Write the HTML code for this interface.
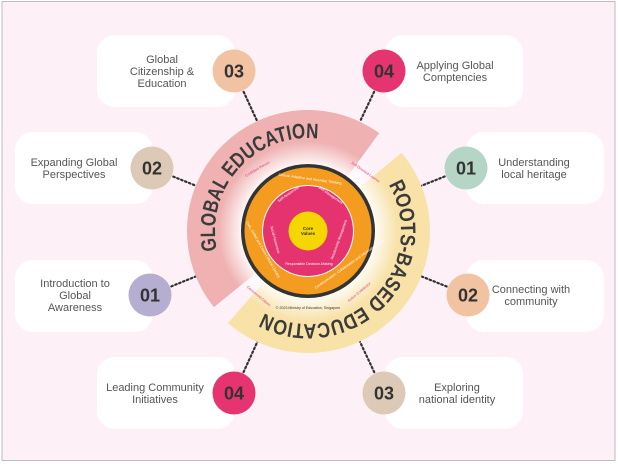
<!DOCTYPE html>
<html><head><meta charset="utf-8"><style>
html,body{margin:0;padding:0;background:#fff;}
svg{display:block;font-family:"Liberation Sans",sans-serif;}
</style></head><body>
<svg id="s" width="618" height="464" viewBox="0 0 618 464" xmlns="http://www.w3.org/2000/svg">
<defs>
<radialGradient id="glow" cx="308" cy="231" r="90" gradientUnits="userSpaceOnUse">
<stop offset="0.72" stop-color="#ffffff" stop-opacity="0.95"/>
<stop offset="1" stop-color="#ffffff" stop-opacity="0"/>
</radialGradient>
</defs>
<rect x="0" y="0" width="618" height="464" fill="#ffffff"/>
<rect x="2" y="1.5" width="613" height="459" fill="#fdf1f7" stroke="#bdbdbd" stroke-width="1"/>
<g id="connectors"></g>
<g id="cards"></g>
<g id="wheel"></g>
</svg>
<script>
const labels=[["Global","Citizenship &","Education"],["Applying Global","Comptencies"],["Expanding Global","Perspectives"],["Understanding","local heritage"],["Introduction to","Global","Awareness"],["Connecting with","community"],["Leading Community","Initiatives"],["Exploring","national identity"]];
const numbers=["03","04","02","01","01","02","04","03"];
const colors=["#f1c3a3","#e5346f","#dccab7","#b5d6c6","#b5aed1","#f1c3a3","#e5346f","#dccab7"];
const cardX=[97,385,15,466,15,466,97,385];
const cardY=[35,35,132,132,260,260,357,357];
const circX=[234,384,152,466,150,468,234,384];
const circY=[71,71,168,168,295,295,393,393];
const textX=[162,455,74,534,75,531,155,457];
const NS="http://www.w3.org/2000/svg";
const C={x:308,y:231};
function mk(tag,attrs,parent){const e=document.createElementNS(NS,tag);for(const k in attrs)e.setAttribute(k,attrs[k]);parent.appendChild(e);return e;}
const cards=document.getElementById('cards'),con=document.getElementById('connectors'),wheel=document.getElementById('wheel');
const defs=document.querySelector('defs');
for(let i=0;i<8;i++){
  const r=mk('rect',{x:cardX[i],y:cardY[i],width:138,height:72,rx:18,fill:'#ffffff'},cards);
  
  
  const dx=C.x-circX[i],dy=C.y-circY[i],d=Math.hypot(dx,dy);
  const x1=circX[i]+dx/d*23,y1=circY[i]+dy/d*23,x2=C.x-dx/d*121,y2=C.y-dy/d*121;
  const l=mk('line',{x1:x1,y1:y1,x2:x2,y2:y2,stroke:'#333','stroke-width':2.2,'stroke-dasharray':'1.6 2.6','stroke-linecap':'round'},con);
  
  
  const c=mk('circle',{cx:circX[i],cy:circY[i],r:21.5,fill:colors[i]},cards);
  
  
  const n=mk('text',{x:circX[i],y:circY[i]+6.5,'text-anchor':'middle','font-size':18,'font-weight':'bold',fill:'#333'},cards);
  n.textContent=numbers[i];
  
  
  const L=labels[i],lh=12,y0=circY[i]-(L.length-1)*lh/2+4;
  const t=mk('text',{x:textX[i],y:y0,'text-anchor':'middle','font-size':11,fill:'#555'},cards);
  
  
  L.forEach((s,j)=>{const sp=mk('tspan',{x:textX[i],y:y0+j*lh},t);sp.textContent=s;});
}
function pt(r,a){a=a*Math.PI/180;return [C.x+r*Math.cos(a),C.y+r*Math.sin(a)];}
function band(r1,r2,a1,a2){const p1=pt(r2,a1),p2=pt(r2,a2),p3=pt(r1,a2),p4=pt(r1,a1);const lg=(a2-a1)>180?1:0;
return `M${p1} A${r2} ${r2} 0 ${lg} 1 ${p2} L${p3} A${r1} ${r1} 0 ${lg} 0 ${p4}Z`;}
function arcPath(r,a1,a2){const p1=pt(r,a1),p2=pt(r,a2);return `M${p1} A${r} ${r} 0 ${(a2-a1)>180?1:0} 1 ${p2}`;}
let p=mk('path',{d:band(60,121,141,306),fill:'#efb1b1'},wheel);


p=mk('path',{d:band(60,122,-40,131),fill:'#f8e2a8'},wheel);


let g=mk('circle',{cx:C.x,cy:C.y,r:90,fill:'url(#glow)'},wheel);


const TR=93;
mk('path',{id:'pinkTextPath',d:arcPath(TR,141,306)},defs);
mk('path',{id:'yellowTextPath',d:arcPath(TR,-40,131)},defs);
function deg2len(a){return TR*a*Math.PI/180;}
let t=mk('text',{'font-size':21,'font-weight':'bold',fill:'#3b3b3b'},wheel);


let tp=mk('textPath',{href:'#pinkTextPath',startOffset:deg2len(168-141),textLength:deg2len(108),lengthAdjust:'spacingAndGlyphs'},t);tp.textContent='GLOBAL EDUCATION';
t=mk('text',{'font-size':21,'font-weight':'bold',fill:'#3b3b3b'},wheel);


tp=mk('textPath',{href:'#yellowTextPath',startOffset:deg2len(10),textLength:deg2len(148),lengthAdjust:'spacingAndGlyphs'},t);tp.textContent='ROOTS-BASED EDUCATION';
const rings=[[67,'#333333'],[63.5,'#f39c1f'],[46,'#ffffff'],[45,'#e5336f'],[19.5,'#f6d600']];
const ringNames=['outer-dark-ring','competencies-ring','pink-ring-border','social-emotional-ring','core-values-circle'];
rings.forEach((r,i)=>{const c=mk('circle',{cx:C.x,cy:C.y,r:r[0],fill:r[1]},wheel);

});
t=mk('text',{x:C.x,y:C.y-1,'text-anchor':'middle','font-size':4.5,'font-weight':'bold',fill:'#333'},wheel);


let s1=mk('tspan',{x:C.x,y:C.y-1},t);s1.textContent='Core';
s1=mk('tspan',{x:C.x,y:C.y+4},t);s1.textContent='Values';
const smalls=[["Self-Awareness",289,195,-35,'#fff'],["Self-Management",330,196,35,'#fff'],["Social Awareness",274,240,75,'#fff'],["Relationship Management",340,240,-70,'#fff'],["Responsible Decision-Making",309,265,0,'#fff'],
["Critical, Adaptive and Inventive Thinking",310,180,8,'#fff'],["Civic, Global and Cross-Cultural Literacy",262,250,60,'#fff'],["Communication, Collaboration and Information Skills",350,265,-35,'#fff'],
["Confident Person",258,170,-30,'#e5336f'],["Self-Directed Learner",365,173,35,'#e5336f'],["Concerned Citizen",258,297,40,'#e5336f'],["Active Contributor",360,293,-40,'#e5336f'],["© 2023 Ministry of Education, Singapore",308,309,0,'#333']];
smalls.forEach((s,i)=>{const e=mk('text',{x:s[1],y:s[2],'text-anchor':'middle','font-size':3.6,fill:s[4],transform:`rotate(${s[3]} ${s[1]} ${s[2]})`},wheel);
e.textContent=s[0];

});
</script>
</body></html>
